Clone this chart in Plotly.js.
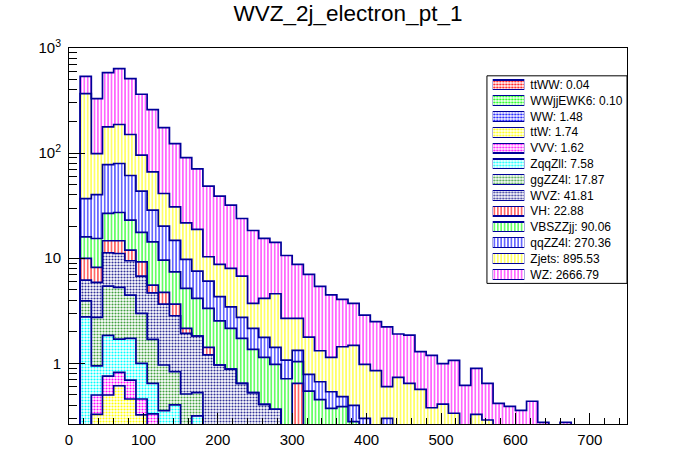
<!DOCTYPE html>
<html>
<head>
<meta charset="utf-8">
<script src="https://cdn.plot.ly/plotly-3.0.1.min.js"></script>
<style>
html,body{margin:0;padding:0;background:#ffffff;}
#chart{width:696px;height:472px;}
</style>
</head>
<body>
<div id="chart"></div>
<script>
// ---- data (bin centres in GeV, bin width 15) ----
const binWidth = 15;
const binCenters = [22.5,37.5,52.5,67.5,82.5,97.5,112.5,127.5,142.5,157.5,172.5,187.5,202.5,217.5,232.5,247.5,262.5,277.5,292.5,307.5,322.5,337.5,352.5,367.5,382.5,397.5,412.5,427.5,442.5,457.5,472.5,487.5,502.5,517.5,532.5,547.5,562.5,577.5,592.5,607.5,622.5,637.5,652.5,667.5];

const ttWW     = [0,0,0.005,0.005,0.005,0.005,0.005,0.005,0.005,0.005,0,0,0,0,0,0,0,0,0,0,0,0,0,0,0,0,0,0,0,0,0,0,0,0,0,0,0,0,0,0,0,0,0,0];
const WWjjEWK6 = [0,0.01,0.01,0.01,0.01,0.01,0.01,0.01,0.01,0.01,0.01,0,0,0,0,0,0,0,0,0,0,0,0,0,0,0,0,0,0,0,0,0,0,0,0,0,0,0,0,0,0,0,0,0];
const WW       = [0.06,0.07,0.08,0.08,0.08,0.08,0.08,0.07,0.07,0.06,0.06,0.05,0.05,0.05,0.05,0.05,0.04,0.04,0.04,0.03,0.03,0.03,0.03,0.03,0.02,0.02,0.02,0.02,0.02,0.02,0.02,0.01,0.01,0.01,0.01,0.01,0.01,0,0,0,0,0,0,0];
const ttW      = [0.02,0.247,0.405,0.517,0.363,0.229,0.04,0.02,0,0,0,0,0,0,0,0,0,0,0,0,0,0,0,0,0,0,0,0,0,0,0,0,0,0,0,0,0,0,0,0,0,0,0,0];
const VVV      = [0.06,0.173,0.257,0.208,0.235,0.134,0.195,0.04,0.03,0,0,0,0,0,0,0,0,0,0,0,0,0,0,0,0,0,0,0,0,0,0,0,0,0,0,0,0,0,0,0,0,0,0,0];
const ZqqZll   = [2.633,0.448,1.088,0.882,1.033,0.542,0.316,0.21,0.287,0.08,0.246,0.03,0,0,0,0,0,0,0,0,0,0,0,0,0,0,0,0,0,0,0,0,0,0,0,0,0,0,0,0,0,0,0,0];
const ggZZ4l   = [1.163,1.787,3.588,3.57,2.731,1.985,1.044,0.609,0.43,0.356,0.21,0.1,0.08,0.06,0.05,0.03,0.02,0,0,0,0,0,0,0,0,0,0,0,0,0,0,0,0,0,0,0,0,0,0,0,0,0,0,0];
const WVZ      = [2.258,3.153,5.84,5.82,5.005,3.776,2.998,2.70,2.006,1.417,1.294,1.022,0.834,0.773,0.546,0.446,0.347,0.326,0.12,0.05,0.06,0.04,0,0,0,0,0,0,0,0,0,0,0,0,0,0,0,0,0,0,0,0,0,0];
const VH       = [3.76,2.297,3.39,3.57,2.48,2.486,0.858,1.068,0.826,0.22,0,0.217,0,0,0,0,0,0,0,0.566,0,0,0,0,0,0,0,0,0,0,0,0,0,0,0,0,0,0,0,0,0,0,0,0];
const VBSZZjj  = [6.04,7.23,12.01,12.57,11.07,8.41,8.77,4.862,3.766,3.016,2.33,1.915,1.577,1.265,1.08,0.832,0.733,0.611,0.554,0.392,0.453,0.382,0.343,0.357,0.259,0.1,0.05,0,0,0,0,0,0,0,0,0,0,0,0,0,0,0,0,0];
const qqZZ4l   = [20.98,24.94,51.1,52.39,38.23,25.79,14.32,10.59,7.36,4.586,3.384,2.719,1.764,1.303,1.009,0.79,0.626,0.442,0.36,0.289,0.242,0.216,0.164,0.095,0.119,0.18,0.08,0.28,0.1,0.08,0.06,0.04,0,0,0,0,0,0,0,0,0,0,0,0];
const Zjets    = [331.1,58.72,99.6,107.5,89.1,52.05,37.73,21.12,16.04,11.98,11.26,4.277,4.425,4.549,4.026,1.567,2.384,3.173,1.605,1.352,0.993,0.65,0.603,0.957,1.085,0.677,0.701,0.30,0.616,0.546,0.486,0.328,0.40,0.325,0.15,0.317,0.279,0.1,0.08,0.05,0.05,0,0,0];
const WZ       = [170.2,231.3,406.0,449.7,361.4,267.6,193.0,133.7,92.5,69.05,52.0,38.09,30.17,23.99,17.12,14.65,11.27,9.54,7.94,6.05,5.237,4.077,3.347,2.616,2.232,1.90,1.638,1.628,1.165,1.212,0.725,0.813,0.583,0.732,0.458,0.568,0.357,0.317,0.31,0.307,0.386,0.275,0,0.275];

const seriesNames  = ['ttWW','WWjjEWK6','WW','ttW','VVV','ZqqZll','ggZZ4l','WVZ','VH','VBSZZjj','qqZZ4l','Zjets','WZ'];
const legendTotals = ['0.04','0.10','1.48','1.74','1.62','7.58','17.87','41.81','22.88','90.06','270.36','895.53','2666.79'];
const seriesValues = [ttWW,WWjjEWK6,WW,ttW,VVV,ZqqZll,ggZZ4l,WVZ,VH,VBSZZjj,qqZZ4l,Zjets,WZ];

// ---- styles ----
const seriesColors = ['#ff0000','#00ff00','#0000ff','#ffff00','#ff00ff','#00ffff','#40a040','#333399','#ff0000','#00ff00','#0000ff','#ffff00','#ff00ff'];
const seriesShapes = ['.','.','.','.','.','.','.','.','|','|','|','|','|'];
const outlineColor = '#000099';
const patSize = s => (s === '|' ? 3.4 : 3);
const patSolid = s => (s === '|' ? 0.3 : 0.38);
const FONT = 'Liberation Sans, Arial, Helvetica, sans-serif';

const traces = [];
seriesValues.forEach((vals, k) => {
  traces.push({
    type: 'bar', x: binCenters, y: vals, width: binWidth, name: seriesNames[k],
    marker: {
      color: seriesColors[k], line: {width: 0},
      pattern: {shape: seriesShapes[k], fgcolor: seriesColors[k], bgcolor: '#ffffff',
                size: patSize(seriesShapes[k]), solidity: patSolid(seriesShapes[k])}
    },
    hoverinfo: 'skip', showlegend: false
  });
});

// outlines of each cumulative stack level
const floorVal = 1e-3;
let running = binCenters.map(() => 0);
seriesValues.forEach((vals) => {
  running = running.map((r, i) => r + vals[i]);
  const xs = [binCenters[0] - binWidth / 2];
  const ys = [floorVal];
  binCenters.forEach((c, i) => { xs.push(c - binWidth / 2); ys.push(Math.max(running[i], floorVal)); });
  const lastEdge = binCenters[binCenters.length - 1] + binWidth / 2;
  xs.push(lastEdge); ys.push(Math.max(running[running.length - 1], floorVal));
  xs.push(lastEdge); ys.push(floorVal);
  traces.push({type: 'scatter', mode: 'lines', x: xs, y: ys,
    line: {shape: 'hv', color: outlineColor, width: 1.7}, hoverinfo: 'skip', showlegend: false});
});

// legend swatches (one per series)
traces.push({
  type: 'bar', orientation: 'h', xaxis: 'x2', yaxis: 'y2',
  y: seriesNames, x: seriesNames.map(() => 1), width: 0.62,
  marker: {
    color: seriesColors, line: {color: outlineColor, width: 1.2},
    pattern: {shape: seriesShapes, fgcolor: seriesColors, bgcolor: '#ffffff',
              size: seriesShapes.map(patSize), solidity: seriesShapes.map(patSolid)}
  },
  hoverinfo: 'skip', showlegend: false
});

const yMinor = [0.3,0.4,0.5,0.6,0.7,0.8,0.9,2,3,4,5,6,7,8,9,20,30,40,50,60,70,80,90,200,300,400,500,600,700,800,900];

const layout = {
  width: 696, height: 472,
  margin: {l: 69, r: 69, t: 48, b: 48, pad: 0},
  paper_bgcolor: '#ffffff', plot_bgcolor: '#ffffff',
  font: {family: FONT, color: '#000000'},
  barmode: 'stack', bargap: 0, showlegend: false,
  title: {text: 'WVZ_2j_electron_pt_1', font: {family: FONT, size: 22.5, color: '#000'},
          x: 0.5, xanchor: 'center', xref: 'paper', y: 0.972, yanchor: 'middle', yref: 'container'},
  xaxis: {
    range: [0, 750], tick0: 0, dtick: 100, ticks: 'inside', ticklen: 11, tickwidth: 1, tickcolor: '#000',
    showline: true, mirror: true, linecolor: '#000', linewidth: 1, zeroline: false, showgrid: false,
    tickfont: {family: FONT, size: 15}, ticklabelstandoff: 2,
    minor: {dtick: 20, tick0: 0, ticks: 'inside', ticklen: 6, tickcolor: '#000', tickwidth: 1, showgrid: false}
  },
  yaxis: {
    type: 'log', range: [-0.577, 3.0], tickmode: 'array',
    tickvals: [1, 10, 100, 1000], ticktext: ['1', '10', '10<sup>2</sup>', '10<sup>3</sup>'],
    ticks: 'inside', ticklen: 16, tickwidth: 1, tickcolor: '#000',
    showline: true, mirror: true, linecolor: '#000', linewidth: 1, zeroline: false, showgrid: false,
    tickfont: {family: FONT, size: 15}, ticklabelstandoff: 4,
    minor: {tickmode: 'array', tickvals: yMinor, ticks: 'inside', ticklen: 8, tickcolor: '#000', tickwidth: 1, showgrid: false}
  },
  xaxis2: {domain: [0.7593, 0.816], anchor: 'y2', range: [0, 1], visible: false, fixedrange: true},
  yaxis2: {
    domain: [0.377, 0.923], anchor: 'x2', type: 'category', categoryorder: 'array', categoryarray: seriesNames,
    range: [12.5, -0.5], side: 'right', ticks: '', showline: false, showgrid: false, zeroline: false,
    tickmode: 'array', tickvals: seriesNames, ticktext: seriesNames.map((n, i) => n + ': ' + legendTotals[i]),
    tickfont: {family: FONT, size: 12, color: '#000'}, ticklabelstandoff: 5, fixedrange: true
  },
  shapes: [{type: 'rect', xref: 'paper', yref: 'paper', x0: 0.749, x1: 1.0, y0: 0.374, y1: 0.926,
            line: {color: '#000', width: 1}, fillcolor: '#ffffff', layer: 'below'}]
};

Plotly.newPlot('chart', traces, layout, {staticPlot: true, displayModeBar: false});
</script>
</body>
</html>
